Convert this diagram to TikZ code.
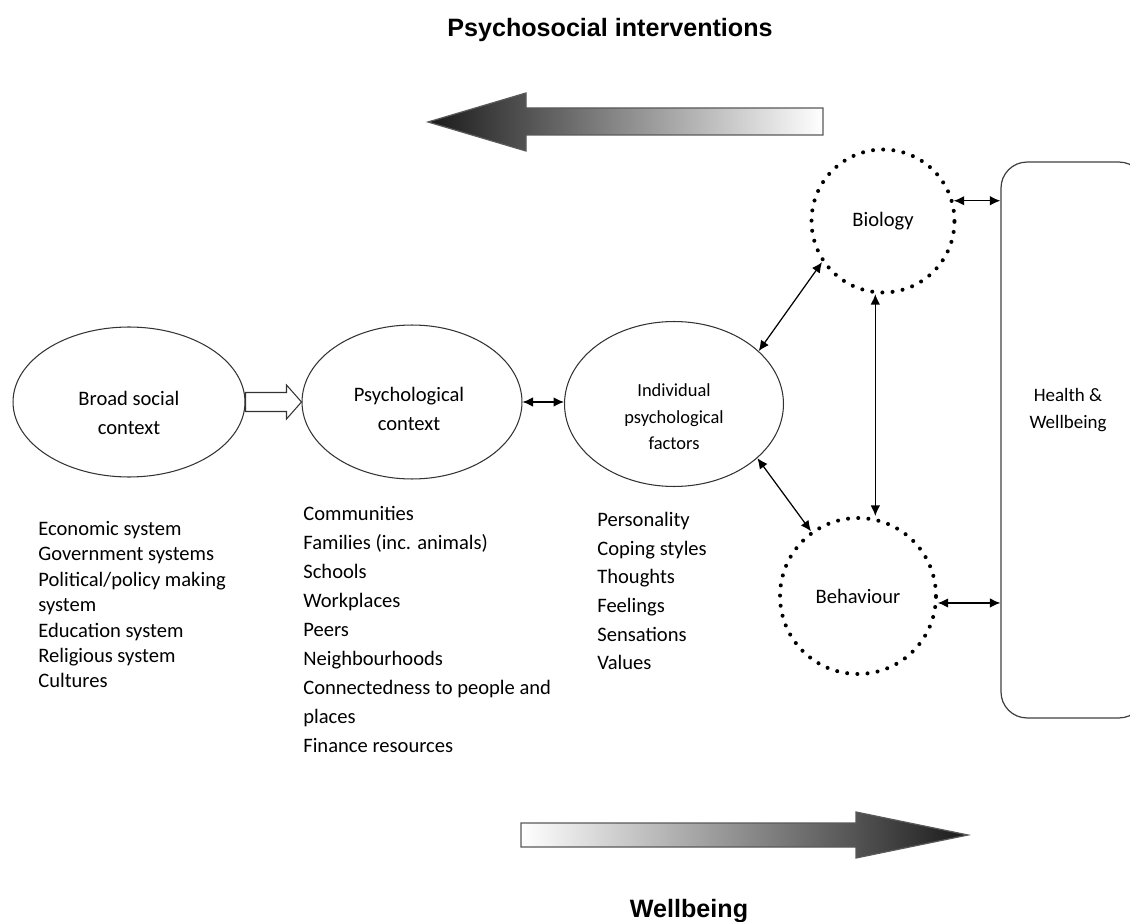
\documentclass[tikz,border=0pt]{standalone}
\usepackage{fontspec}
\setmainfont{Carlito}
\newfontfamily\headfont{Liberation Sans}
\usetikzlibrary{positioning,arrows.meta,calc,shapes.geometric}
\tikzset{
  ctxnode/.style={draw=black!80, line width=0.6pt, ellipse, inner sep=0pt},
  ctxtext/.style={align=center, inner sep=0pt, font=\fontsize{11.7}{16.5}\selectfont},
  dotnode/.style={circle, draw=black, line width=2.3pt, dash pattern=on 0pt off 5.8pt, line cap=round, inner sep=0pt, font=\fontsize{11.7}{14}\selectfont},
  hwbox/.style={draw=black!75, line width=0.7pt, rounded corners=0.52cm, minimum width=2.88cm, minimum height=11.12cm},
  listtext/.style={anchor=north west, align=left, inner sep=0pt},
  linkarrow/.style={{Latex[length=2.1mm,width=1.9mm]}-{Latex[length=2.1mm,width=1.9mm]}, line width=0.7pt},
  bigarrow/.style={draw=black!65, line width=0.7pt},
  hollowarrow/.style={draw=black!80, line width=0.6pt, fill=white},
  headtext/.style={font=\headfont\bfseries\fontsize{14.3}{17}\selectfont}
}

\begin{document}
\begin{tikzpicture}[x=0.02cm, y=-0.02cm]
  \useasboundingbox (0,0) rectangle (1130,922);

  % headings and the two shaded arrows
  \node[headtext] (title) at (610,30) {Psychosocial interventions};
  \node[headtext] (welltitle) at (689,911) {Wellbeing};
  \path[bigarrow, left color=black!90, middle color=black!35, right color=white]
    (428,122) -- (526,93) -- (526,108) -- (823,108) -- (823,135) -- (526,135) -- (526,151) -- cycle;
  \path[bigarrow, left color=white, middle color=black!35, right color=black!90]
    (968,835) -- (856,812) -- (856,823) -- (521,823) -- (521,847) -- (856,847) -- (856,858) -- cycle;

  % contexts
  \node[ctxnode, minimum width=4.64cm, minimum height=3.0cm] (bsc) at (129,402) {};
  \node[ctxnode, minimum width=4.4cm, minimum height=3.08cm] (psy) at (412,402) {};
  \node[ctxnode, minimum width=4.38cm, minimum height=3.3cm] (ind) at (674,404) {};
  \node[ctxtext] (bsctext) at ($(bsc)+(0,11)$) {Broad social\\context};
  \node[ctxtext] (psytext) at ($(psy)+(-3,7)$) {Psychological\\context};
  \node[ctxtext, font=\fontsize{10.5}{15}\selectfont] (indtext) at ($(ind)+(0,13)$) {Individual\\psychological\\factors};
  \node[dotnode, minimum size=2.86cm] (bio) at (883,221) {Biology};
  \node[dotnode, minimum size=3.12cm] (beh) at (858,596) {Behaviour};
  \node[hwbox] (hw) at (1073,440) {};
  \node[font=\fontsize{10.8}{15}\selectfont, align=center] (hwtext) at (1068,410) {Health \&\\Wellbeing};

  % lists
  \node[listtext, font=\fontsize{11.7}{14.46}\selectfont] (bsclist) at (38,521) {Economic system\\Government systems\\Political/policy making\\system\\Education system\\Religious system\\Cultures};
  \node[listtext, font=\fontsize{11.7}{16.5}\selectfont] (psylist) at (303,506) {Communities\\Families (inc. animals)\\Schools\\Workplaces\\Peers\\Neighbourhoods\\Connectedness to people and\\places\\Finance resources};
  \node[listtext, font=\fontsize{11.7}{16.3}\selectfont] (indlist) at (597,512) {Personality\\Coping styles\\Thoughts\\Feelings\\Sensations\\Values};

  % links
  \path[hollowarrow] ($(bsc.east)+(0,-9.5)$) -- ($(psy.west)+(-15,-9.5)$) -- ($(psy.west)+(-15,-17)$) -- (psy.west)
    -- ($(psy.west)+(-15,17)$) -- ($(psy.west)+(-15,9.5)$) -- ($(bsc.east)+(0,9.5)$) -- cycle;
  \draw[linkarrow] (psy.east) -- (psy.east -| ind.west);
  \draw[linkarrow] (ind.32) -- (bio.214);
  \draw[linkarrow] (ind.-33) -- (beh.126);
  \draw[linkarrow] (bio.264) -- (bio.264 |- beh.north);
  \draw[linkarrow] (bio.16) -- (bio.16 -| hw.west);
  \draw[linkarrow] (beh.-5) -- (beh.-5 -| hw.west);
\end{tikzpicture}
\end{document}
